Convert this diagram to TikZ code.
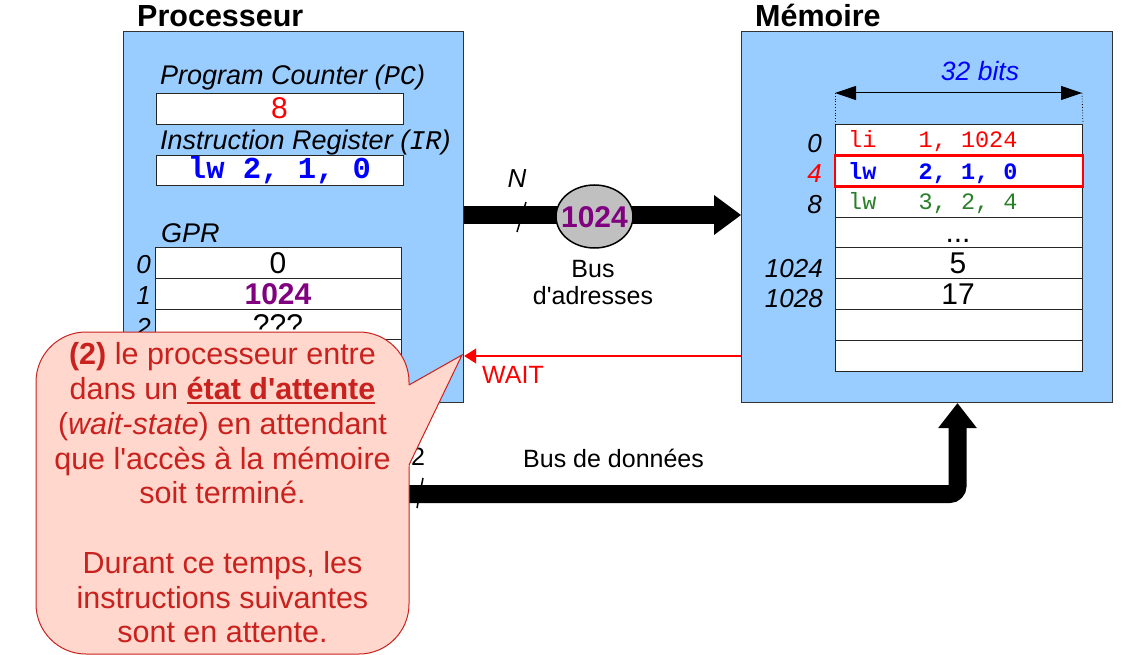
\documentclass[tikz,border=0pt]{standalone}
\usepackage{fontspec}
\setmainfont{Liberation Sans}
\setmonofont{Liberation Mono}
\usetikzlibrary{shapes.geometric,arrows.meta}
\definecolor{procblue}{HTML}{99CCFF}
\definecolor{calfill}{HTML}{FFD7CC}
\definecolor{calred}{HTML}{C9211E}
\definecolor{grn}{HTML}{2A7F2A}
\definecolor{purp}{HTML}{800080}
\definecolor{ellgray}{HTML}{C0C0C0}
\newcommand\fsz[1]{\fontsize{#1pt}{#1pt}\selectfont}
\newcommand\aq{\textquotesingle}
\newcommand\myul[1]{\setbox0\hbox{#1}\rlap{\rule[-4.5pt]{\wd0}{2.2pt}}\box0}
\begin{document}
\begin{tikzpicture}[x=1pt,y=-1pt,
  unitbox/.style={draw=black!80, line width=1.2pt, fill=procblue, inner sep=0pt, anchor=north west},
  cell/.style={draw=black!85, line width=1pt, fill=white, inner sep=0pt, anchor=north west, minimum width=247pt, minimum height=31pt},
  txt/.style={inner sep=0pt, anchor=base},
  titlef/.style={font=\fsz{30.5}\bfseries},
  lblf/.style={font=\fsz{27}\itshape},
  idxf/.style={inner sep=0pt, anchor=base east, font=\fsz{26}\itshape},
  memtt/.style={inner sep=0pt, anchor=base west, font=\fsz{23.5}\ttfamily},
  busline/.style={line width=18pt, black},
  slashline/.style={line width=1.5pt, black},
  busf/.style={font=\fsz{25}}
]
\useasboundingbox (0,0) rectangle (1133,655);

% ---------------- Processor ----------------
\node[titlef, inner sep=0pt, anchor=base west] (ptitle) at (137,27) {Processeur};
\node[unitbox, minimum width=340pt, minimum height=371pt] (proc) at (123,31) {};
\node[lblf, inner sep=0pt, anchor=base west] (pclbl) at (160,85) {Program Counter ({\ttfamily\itshape PC})};
\node[cell] (pc) at (156,93) {};
\node[txt, font=\fsz{30}, text=red] (pcval) at (279.5,119) {8};
\node[lblf, inner sep=0pt, anchor=base west] (irlbl) at (160,150) {Instruction Register ({\ttfamily\itshape IR})};
\node[cell, minimum height=30pt] (ir) at (156,155) {};
\node[txt, font=\fsz{30.5}\ttfamily\bfseries, text=blue] (irval) at (279.5,178.5) {lw 2, 1, 0};

\node[lblf, inner sep=0pt, anchor=base west] (gprlbl) at (161,243) {GPR};
\node[cell, minimum width=246pt, minimum height=30.75pt] (g0) at (155,247) {};
\node[cell, minimum width=246pt, minimum height=30.75pt] (g1) at (155,277.75) {};
\node[cell, minimum width=246pt, minimum height=30.75pt] (g2) at (155,308.5) {};
\node[cell, minimum width=246pt, minimum height=30.75pt] (g3) at (155,339.25) {};
\node[txt, font=\fsz{30}] (g0v) at (278,274) {0};
\node[txt, font=\fsz{30}\bfseries, text=purp] (g1v) at (278,305) {1024};
\node[txt, font=\fsz{30}] (g2v) at (278,335.5) {???};
\node[idxf] (g0i) at (151,273) {0};
\node[idxf] (g1i) at (151,305) {1};
\node[idxf] (g2i) at (151,336) {2};

% ---------------- Memory ----------------
\node[titlef, inner sep=0pt, anchor=base west] (mtitle) at (755,27) {Mémoire};
\node[unitbox, minimum width=371pt, minimum height=371pt] (mem) at (741,31) {};
\node[txt, font=\fsz{26.5}\itshape, text=blue] (bits) at (980,81) {32 bits};
\foreach \i in {0,...,7}{
  \node[cell] (m\i) at (835,{124+30.875*\i}) {};
}
\coordinate (dimL) at (835,93);
\coordinate (dimR) at (1082,93);
\draw[line width=1pt, {Triangle[length=21pt,width=14pt]}-{Triangle[length=21pt,width=14pt]}] (dimL) -- (dimR);
\draw[dotted, line width=0.8pt] (dimL) -- (m0.north west);
\draw[dotted, line width=0.8pt] (dimR) -- (m0.north east);
\node[memtt, text=red] (m0t) at (848,148) {li~~~1,~1024};
\node[memtt, text=blue, font=\fsz{23.5}\ttfamily\bfseries] (m1t) at (848,180) {lw~~~2,~1,~0};
\node[memtt, text=grn] (m2t) at (848,210) {lw~~~3,~2,~4};
\node[txt, font=\fsz{30}] (m3t) at (958,243) {...};
\node[txt, font=\fsz{30}] (m4t) at (958,273) {5};
\node[txt, font=\fsz{30}] (m5t) at (958,304.5) {17};
\node[draw=red, line width=2.5pt, inner sep=0pt, minimum width=248pt, minimum height=31pt] (hl) at (m1.center) {};
\node[idxf] (a0) at (822,153) {0};
\node[idxf, text=red] (a4) at (822,183) {4};
\node[idxf] (a8) at (822,214) {8};
\node[idxf] (a1024) at (823,278) {1024};
\node[idxf] (a1028) at (823,308) {1028};

% ---------------- Address bus ----------------
\coordinate (aby) at (0,215);
\draw[busline, shorten >=26pt] (proc.east |- aby) -- (mem.west |- aby);
\fill[black] (mem.west |- aby) -- ++(-27,-20) -- ++(0,40) -- cycle;
\draw[slashline] (526,202) -- (517,232);
\node[txt, font=\fsz{26}\itshape] (nlbl) at (517,188) {N};
\node[ellipse, draw=black, line width=1.5pt, fill=ellgray, minimum width=77pt, minimum height=63pt, inner sep=0pt] (addr) at (594.5,216.5) {};
\node[txt, font=\fsz{30}\bfseries, text=purp] (addrv) at (594.5,228) {1024};
\node[txt, busf] (busa1) at (593,278) {Bus};
\node[txt, busf] (busa2) at (593,305) {d\aq adresses};

% ---------------- WAIT ----------------
\coordinate (wy) at (0,356);
\draw[red, line width=1.2pt, -{Triangle[length=12pt,width=15pt]}] (mem.west |- wy) -- (proc.east |- wy);
\node[inner sep=0pt, anchor=base west, font=\fsz{25}, text=red] (wait) at (482,383) {WAIT};

% ---------------- Data bus ----------------
\coordinate (dbstart) at (300,494);
\coordinate (dbx) at (957.5,0);
\draw[busline, rounded corners=8pt, shorten >=24pt] (dbstart) -- (dbx |- dbstart) -- (dbx |- mem.south);
\fill[black] (dbx |- mem.south) -- ++(-19.5,25) -- ++(39,0) -- cycle;
\draw[slashline] (423,478) -- (417,508);
\node[txt, busf] (dbw) at (418,465) {2};
\node[inner sep=0pt, anchor=base west, busf] (busd) at (523,467) {Bus de données};

% ---------------- Callout ----------------
\fill[calfill, draw=calred, line width=1pt, rounded corners=50pt] (36,332) rectangle (409,654);
\fill[calfill] (462,355) -- (404,387.8) -- (404,475.4) -- cycle;
\draw[calred, line width=1pt, line join=miter] (409,385) -- (462,355) -- (409,465);
\node[inner sep=0pt, align=center, text=calred, font=\fontsize{30.5pt}{34.75pt}\selectfont] (ctext) at (222.5,493) {%
\textbf{(2)} le processeur entre\\
dans un \myul{\textbf{état d\aq attente}}\\
(\textit{wait-state}) en attendant\\
que l\aq accès à la mémoire\\
soit terminé.\\[34.75pt]
Durant ce temps, les\\
instructions suivantes\\
sont en attente.};
\end{tikzpicture}
\end{document}
